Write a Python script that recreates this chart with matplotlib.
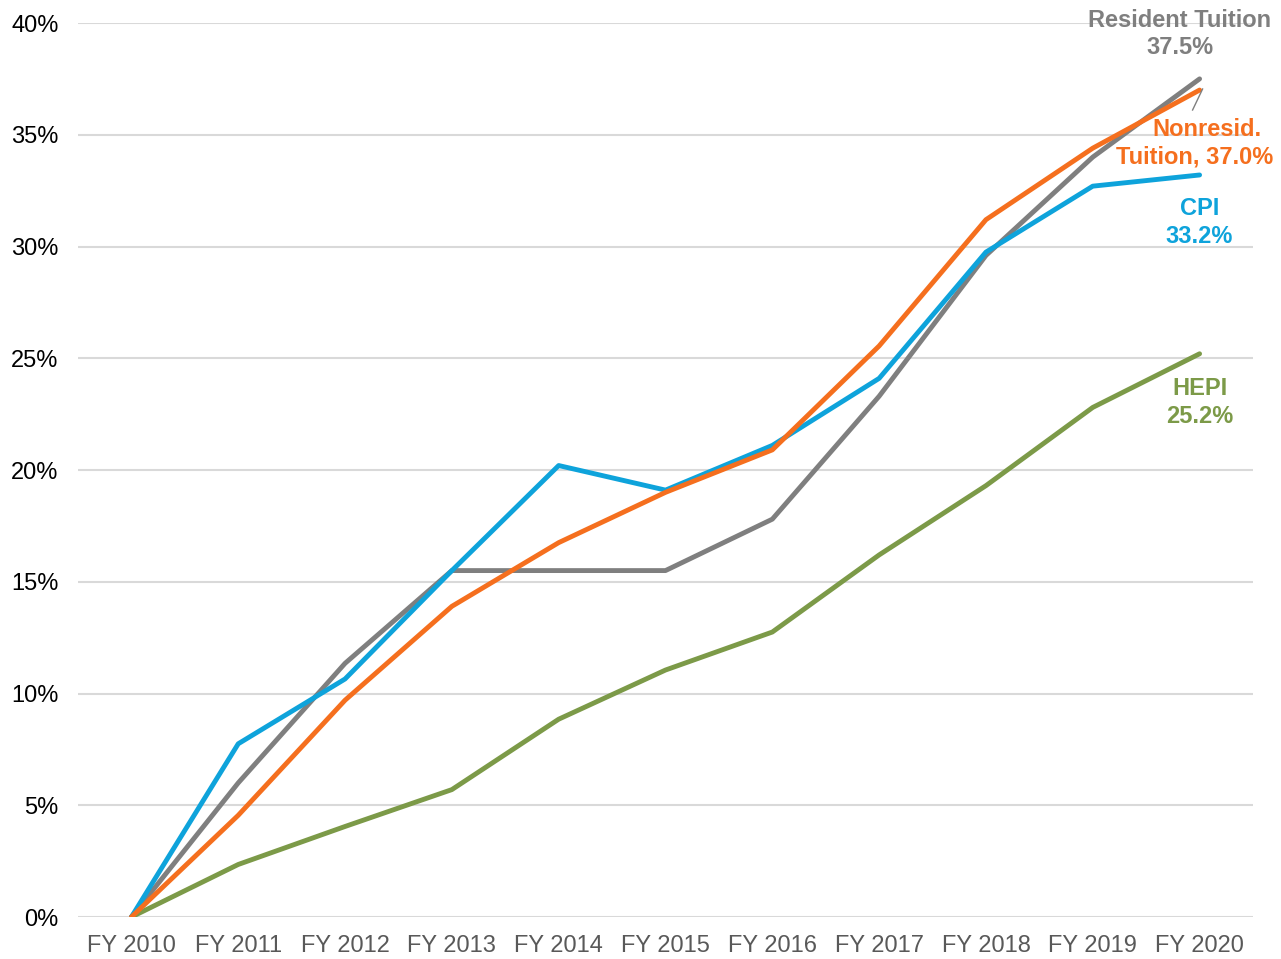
import matplotlib
matplotlib.use("Agg")
import matplotlib.pyplot as plt
from matplotlib.ticker import FuncFormatter

years = ["FY 2010", "FY 2011", "FY 2012", "FY 2013", "FY 2014", "FY 2015",
         "FY 2016", "FY 2017", "FY 2018", "FY 2019", "FY 2020"]
resident = [0, 6.0, 11.35, 15.5, 15.5, 15.5, 17.8, 23.3, 29.6, 34.0, 37.5]
nonresident = [0, 4.55, 9.7, 13.9, 16.75, 19.0, 20.9, 25.55, 31.2, 34.4, 37.0]
cpi = [0, 7.75, 10.65, 15.5, 20.2, 19.1, 21.1, 24.1, 29.75, 32.7, 33.2]
hepi = [0, 2.35, 4.05, 5.7, 8.85, 11.05, 12.75, 16.2, 19.3, 22.8, 25.2]

C_GRAY = "#7F7F7F"
C_ORANGE = "#F56F1E"
C_BLUE = "#0EA3DB"
C_GREEN = "#7C9A48"

plt.rcParams['font.family'] = ['Liberation Sans', 'DejaVu Sans']

fig = plt.figure(figsize=(12.81, 9.59), dpi=100)
ax = fig.add_axes([78/1281, 1-917/959, (1253-78)/1281, (917-23)/959])

x = list(range(len(years)))
lw = 3.5
ax.plot(x, hepi, color=C_GREEN, lw=lw, solid_capstyle='round', zorder=3)
ax.plot(x, resident, color=C_GRAY, lw=lw, solid_capstyle='round', zorder=4)
ax.plot(x, cpi, color=C_BLUE, lw=lw, solid_capstyle='round', zorder=5)
ax.plot(x, nonresident, color=C_ORANGE, lw=lw, solid_capstyle='round', zorder=6)

ax.set_xlim(-0.5, 10.5)
ax.set_ylim(0, 40)
ax.set_yticks(range(0, 41, 5))
ax.yaxis.set_major_formatter(FuncFormatter(lambda v, p: f"{int(v)}%"))
ax.set_xticks(x)
ax.set_xticklabels(years)
ax.grid(axis='y', color='#D9D9D9', lw=1.5, zorder=0)
ax.set_axisbelow(True)
for s in ax.spines.values():
    s.set_visible(False)
ax.tick_params(axis='both', length=0, labelsize=17)
ax.tick_params(axis='y', pad=14, labelcolor='black')
ax.tick_params(axis='x', pad=13, labelcolor='#595959')

def py(v):
    return (917 - v) / 22.35
def px(v):
    return (v - 132) / 106.8

fs = 17
ax.text(px(1180), py(20), "Resident Tuition", color=C_GRAY, fontsize=fs, fontweight='bold',
        ha='center', va='center', clip_on=False)
ax.text(px(1180), py(47), "37.5%", color=C_GRAY, fontsize=fs, fontweight='bold',
        ha='center', va='center', clip_on=False)
ax.plot([px(1203), px(1193)], [py(89), py(110)], color=C_GRAY, lw=1, zorder=7, clip_on=False)
ax.text(px(1207), py(129), "Nonresid.", color=C_ORANGE, fontsize=fs, fontweight='bold',
        ha='center', va='center', clip_on=False)
ax.text(px(1195), py(157), "Tuition, 37.0%", color=C_ORANGE, fontsize=fs, fontweight='bold',
        ha='center', va='center', clip_on=False)
ax.text(px(1200), py(208), "CPI", color=C_BLUE, fontsize=fs, fontweight='bold',
        ha='center', va='center', clip_on=False)
ax.text(px(1200), py(236), "33.2%", color=C_BLUE, fontsize=fs, fontweight='bold',
        ha='center', va='center', clip_on=False)
ax.text(px(1200), py(388), "HEPI", color=C_GREEN, fontsize=fs, fontweight='bold',
        ha='center', va='center', clip_on=False)
ax.text(px(1200), py(416), "25.2%", color=C_GREEN, fontsize=fs, fontweight='bold',
        ha='center', va='center', clip_on=False)

fig.savefig("out.png", dpi=100)
